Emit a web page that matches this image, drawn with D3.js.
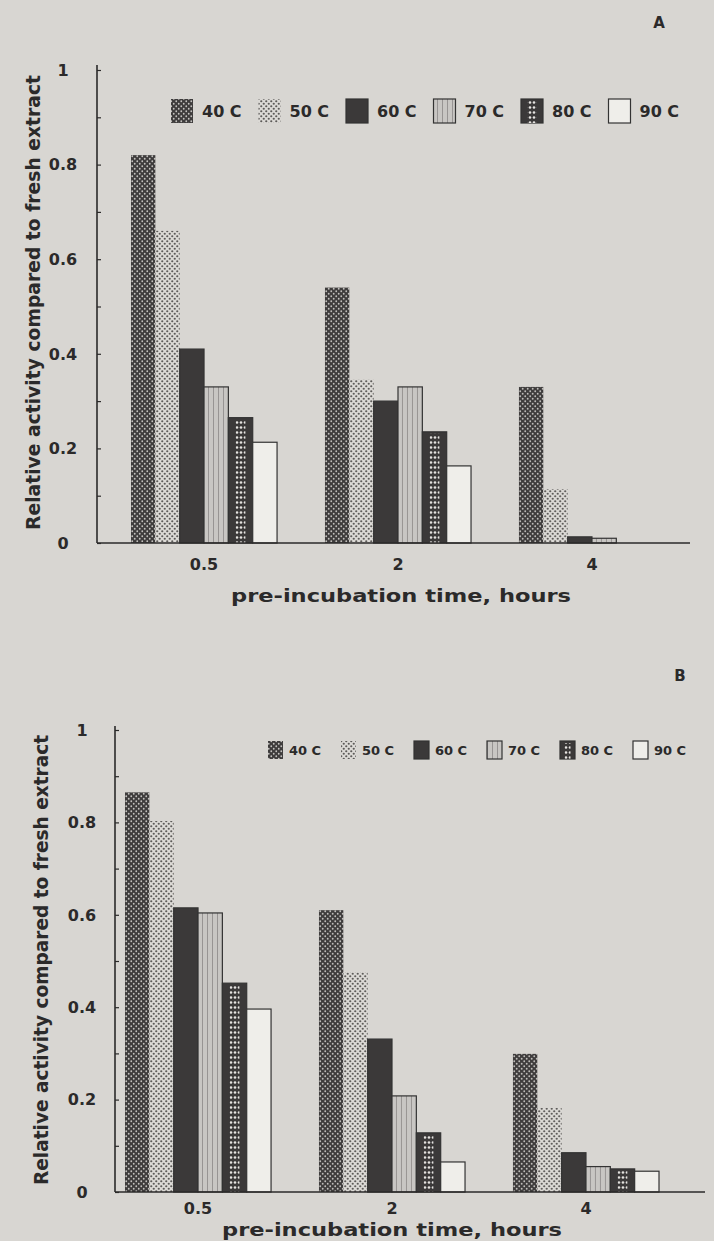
<!DOCTYPE html>
<html>
<head>
<meta charset="utf-8">
<script src="https://cdn.jsdelivr.net/npm/d3@7"></script>
<style>
  html, body { margin: 0; padding: 0; background: #d8d6d2; }
  svg { display: block; }
</style>
</head>
<body>
<div id="chart"></div>
<script>
const hours = ["0.5", "2", "4"];
const temps = ["40 C", "50 C", "60 C", "70 C", "80 C", "90 C"];

// panel A: relative activity at each temperature, one array per pre-incubation time
const activityA_05 = [0.82, 0.66, 0.41, 0.33, 0.265, 0.213];
const activityA_2 = [0.54, 0.345, 0.30, 0.33, 0.235, 0.163];
const activityA_4 = [0.33, 0.114, 0.013, 0.01, 0, 0];

// panel B
const activityB_05 = [0.865, 0.803, 0.615, 0.604, 0.452, 0.396];
const activityB_2 = [0.61, 0.476, 0.331, 0.208, 0.128, 0.065];
const activityB_4 = [0.299, 0.182, 0.085, 0.055, 0.05, 0.045];

const yTicks = [0, 0.2, 0.4, 0.6, 0.8, 1];
const yMinorTicks = [0.1, 0.3, 0.5, 0.7, 0.9];

const W = 714, H = 1241;
const ink = "#2b2a2a";
const numFont = "'DejaVu Sans', sans-serif";
const narrowFont = "'Liberation Sans Narrow', 'DejaVu Sans Condensed', 'Liberation Sans', sans-serif";

const panels = [
    {
        letter: "A", letterPos: [659, 28],
        values: [activityA_05, activityA_2, activityA_4],
        axisX: 97, y0: 543, y1: 70, axisTop: 65, xEnd: 690,
        band: [107, 689],
        tickLabelX: 63, tickFont: 16,
        titleX: 33, titleSpan: [75, 530],
        legend: { x: 171, y: 99, step: 87.5, sw: 22, sh: 24, gap: 9, font: 16 },
        xLabelY: 570, xTitle: [401, 602]
    },
    {
        letter: "B", letterPos: [680, 681],
        values: [activityB_05, activityB_2, activityB_4],
        axisX: 115, y0: 1192, y1: 730, axisTop: 726, xEnd: 705,
        band: [101, 683],
        tickLabelX: 82, tickFont: 16,
        titleX: 41, titleSpan: [735, 1185],
        legend: { x: 268, y: 741, step: 73, sw: 15, sh: 18, gap: 6, font: 13 },
        xLabelY: 1214, xTitle: [392, 1236]
    }
];

const svg = d3.select("#chart").append("svg")
    .attr("width", W)
    .attr("height", H);

svg.append("rect").attr("width", W).attr("height", H).attr("fill", "#d8d6d2");

// halftone-like fills
const defs = svg.append("defs");

const p40 = defs.append("pattern").attr("id", "p40")
    .attr("patternUnits", "userSpaceOnUse").attr("width", 5).attr("height", 5);
p40.append("rect").attr("width", 5).attr("height", 5).attr("fill", "#3e3c3c");
p40.append("circle").attr("cx", 1.25).attr("cy", 1.25).attr("r", 0.9).attr("fill", "#c4c2bf");
p40.append("circle").attr("cx", 3.75).attr("cy", 3.75).attr("r", 0.9).attr("fill", "#c4c2bf");

const p50 = defs.append("pattern").attr("id", "p50")
    .attr("patternUnits", "userSpaceOnUse").attr("width", 5).attr("height", 5);
p50.append("rect").attr("width", 5).attr("height", 5).attr("fill", "#dcdad6");
p50.append("circle").attr("cx", 1.25).attr("cy", 1.25).attr("r", 1.1).attr("fill", "#5c5a58");
p50.append("circle").attr("cx", 3.75).attr("cy", 3.75).attr("r", 1.1).attr("fill", "#5c5a58");

const p70 = defs.append("pattern").attr("id", "p70")
    .attr("patternUnits", "userSpaceOnUse").attr("width", 5).attr("height", 10);
p70.append("rect").attr("width", 5).attr("height", 10).attr("fill", "#c8c6c3");
p70.append("line").attr("x1", 2.5).attr("x2", 2.5).attr("y1", 0).attr("y2", 10)
    .attr("stroke", "#8a8886").attr("stroke-width", 0.8);

const p80 = defs.append("pattern").attr("id", "p80")
    .attr("patternUnits", "userSpaceOnUse").attr("width", 4).attr("height", 5);
p80.append("rect").attr("width", 4).attr("height", 5).attr("fill", "#3b3939");
p80.append("circle").attr("cx", 2).attr("cy", 2.5).attr("r", 1.3).attr("fill", "#e6e4e1");

const fills = ["url(#p40)", "url(#p50)", "#3b3939", "url(#p70)", "#3b3939", "#efeeea"];
const strokes = ["none", "none", "#333", "#333", "#333", "#333"];

function drawBar(sel, i, x, y, w, h) {
    if (h <= 0) return;
    sel.append("rect")
        .attr("x", x).attr("y", y)
        .attr("width", w).attr("height", h)
        .attr("fill", fills[i])
        .attr("stroke", strokes[i])
        .attr("stroke-width", 1.2);
    if (i === 4 && h > 3) {
        sel.append("rect")
            .attr("x", x + w * 0.3).attr("y", y + 2)
            .attr("width", w * 0.4).attr("height", h - 2)
            .attr("fill", "url(#p80)");
    }
}

panels.forEach(p => {
    const g = svg.append("g");

    const y = d3.scaleLinear().domain([0, 1]).range([p.y0, p.y1]);
    const x0 = d3.scaleBand().domain(hours).range(p.band)
        .paddingInner(0.247).paddingOuter(0.1237);
    const x1 = d3.scaleBand().domain(temps).range([0, x0.bandwidth()]);

    // bars
    hours.forEach((h, hi) => {
        const grp = g.append("g").attr("transform", `translate(${x0(h)},0)`);
        p.values[hi].forEach((v, ti) => {
            drawBar(grp, ti, x1(temps[ti]), y(v), x1.bandwidth(), p.y0 - y(v));
        });
    });

    // y axis with inward ticks
    const yAxis = g.append("g")
        .attr("transform", `translate(${p.axisX},0)`)
        .call(d3.axisLeft(y)
            .tickValues(yTicks.concat(yMinorTicks))
            .tickSizeInner(-4)
            .tickSizeOuter(0)
            .tickFormat(""));
    yAxis.select(".domain").remove();
    yAxis.selectAll("line").attr("stroke", ink).attr("stroke-width", 1.2);
    g.append("line")
        .attr("x1", p.axisX).attr("x2", p.axisX)
        .attr("y1", p.axisTop).attr("y2", p.y0)
        .attr("stroke", ink).attr("stroke-width", 1.6);

    g.selectAll("text.ytick")
        .data(yTicks)
        .enter()
        .append("text")
        .attr("class", "ytick")
        .attr("x", p.tickLabelX)
        .attr("y", d => y(d))
        .attr("dy", "0.36em")
        .attr("text-anchor", "middle")
        .attr("font-family", numFont)
        .attr("font-weight", "bold")
        .attr("font-size", p.tickFont)
        .attr("fill", ink)
        .text(d => (d === 0 || d === 1) ? d3.format("d")(d) : d3.format(".1f")(d));

    // x axis
    g.append("line")
        .attr("x1", p.axisX).attr("x2", p.xEnd)
        .attr("y1", p.y0).attr("y2", p.y0)
        .attr("stroke", ink).attr("stroke-width", 1.4);

    const xAxis = g.append("g")
        .attr("transform", `translate(0,${p.xLabelY})`)
        .call(d3.axisBottom(x0).tickSize(0).tickPadding(0));
    xAxis.select(".domain").remove();
    xAxis.selectAll("text")
        .attr("dy", null)
        .attr("y", 0)
        .attr("font-family", numFont)
        .attr("font-weight", "bold")
        .attr("font-size", 16)
        .attr("fill", ink);

    g.append("text")
        .attr("x", p.xTitle[0])
        .attr("y", p.xTitle[1])
        .attr("text-anchor", "middle")
        .attr("font-family", numFont)
        .attr("font-weight", "bold")
        .attr("font-size", 17)
        .attr("textLength", 340)
        .attr("lengthAdjust", "spacingAndGlyphs")
        .attr("fill", ink)
        .text("pre-incubation time, hours");

    // y title
    const ty = (p.titleSpan[0] + p.titleSpan[1]) / 2;
    g.append("text")
        .attr("transform", `translate(${p.titleX},${ty}) rotate(-90)`)
        .attr("text-anchor", "middle")
        .attr("dy", "0.35em")
        .attr("font-family", narrowFont)
        .attr("font-weight", "bold")
        .attr("font-size", 20)
        .attr("textLength", p.titleSpan[1] - p.titleSpan[0])
        .attr("lengthAdjust", "spacingAndGlyphs")
        .attr("fill", ink)
        .text("Relative activity compared to fresh extract");

    // panel letter
    g.append("text")
        .attr("x", p.letterPos[0]).attr("y", p.letterPos[1])
        .attr("text-anchor", "middle")
        .attr("font-family", numFont)
        .attr("font-weight", "bold")
        .attr("font-size", 15)
        .attr("fill", ink)
        .text(p.letter);

    // legend
    const L = p.legend;
    const lg = g.append("g");
    temps.forEach((t, i) => {
        const lx = L.x + i * L.step;
        drawBar(lg, i, lx, L.y, L.sw, L.sh);
        lg.append("text")
            .attr("x", lx + L.sw + L.gap)
            .attr("y", L.y + L.sh / 2)
            .attr("dy", "0.36em")
            .attr("font-family", numFont)
            .attr("font-weight", "bold")
            .attr("font-size", L.font)
            .attr("fill", ink)
            .text(t);
    });
});
</script>
</body>
</html>
